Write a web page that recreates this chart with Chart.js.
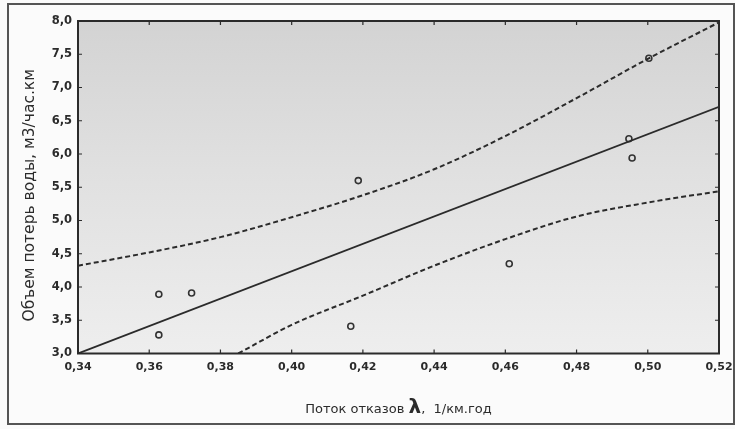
<!DOCTYPE html>
<html>
<head>
<meta charset="utf-8">
<script src="https://cdn.jsdelivr.net/npm/chart.js@4.4.1/dist/chart.umd.min.js"></script>
<style>
    html, body { margin: 0; padding: 0; background: #fbfbfb; }
    #wrap { position: relative; width: 735px; height: 429px; }
</style>
</head>
<body>
<div id="wrap"><canvas id="loss-chart" width="735" height="429"></canvas></div>
<script>
// Failure rate (1/km.year) vs water loss volume (m3/h.km)
const failRate = [0.3627, 0.3627, 0.3719, 0.4166, 0.4187, 0.4611, 0.4947, 0.4956, 0.5003];
const waterLoss = [3.89, 3.28, 3.91, 3.41, 5.60, 4.35, 6.23, 5.94, 7.44];

// Regression line end points
const fitX = [0.34, 0.52];
const fitY = [3.00, 6.71];

// Confidence band
const upperX = [0.34, 0.36, 0.38, 0.40, 0.42, 0.44, 0.46, 0.48, 0.50, 0.52];
const upperY = [4.32, 4.52, 4.75, 5.05, 5.38, 5.77, 6.27, 6.84, 7.43, 7.98];
const lowerX = [0.385, 0.40, 0.42, 0.44, 0.46, 0.48, 0.50, 0.52];
const lowerY = [3.00, 3.43, 3.87, 4.32, 4.72, 5.06, 5.27, 5.44];

// Axis ticks
const xTicks = [0.34, 0.36, 0.38, 0.40, 0.42, 0.44, 0.46, 0.48, 0.50, 0.52];
const yTicks = [3.0, 3.5, 4.0, 4.5, 5.0, 5.5, 6.0, 6.5, 7.0, 7.5, 8.0];

const xTitle = ['Поток отказов ', 'λ', ',  1/км.год'];
const yTitle = 'Объем потерь воды, м3/час.км';

const ink = '#2b2b2b';
const family = '"DejaVu Sans", "Liberation Sans", Arial';
const pairs = (xs, ys) => xs.map((x, i) => ({ x: x, y: ys[i] }));

// Gray plot background, frame with inward ticks, page border and axis titles
const framePlugin = {
    id: 'frame',
    beforeDatasetsDraw(chart) {
        const { ctx, chartArea: a } = chart;
        ctx.save();
        const g = ctx.createLinearGradient(0, a.top, 0, a.bottom);
        g.addColorStop(0, '#d3d3d3');
        g.addColorStop(0.45, '#e0e0e0');
        g.addColorStop(1, '#eeeeee');
        ctx.fillStyle = g;
        ctx.fillRect(a.left, a.top, a.right - a.left, a.bottom - a.top);
        ctx.restore();
    },
    afterDraw(chart) {
        const { ctx, chartArea: a, scales } = chart;
        ctx.save();
        ctx.strokeStyle = ink;
        ctx.lineWidth = 2;
        ctx.strokeRect(a.left, a.top, a.right - a.left, a.bottom - a.top);

        ctx.lineWidth = 1.2;
        ctx.beginPath();
        xTicks.forEach(v => {
            const px = scales.x.getPixelForValue(v);
            ctx.moveTo(px, a.bottom); ctx.lineTo(px, a.bottom - 4);
            ctx.moveTo(px, a.top); ctx.lineTo(px, a.top + 4);
        });
        yTicks.forEach(v => {
            const py = scales.y.getPixelForValue(v);
            ctx.moveTo(a.left, py); ctx.lineTo(a.left + 4, py);
            ctx.moveTo(a.right, py); ctx.lineTo(a.right - 4, py);
        });
        ctx.stroke();

        // outer border of the figure
        ctx.strokeStyle = '#555';
        ctx.lineWidth = 2;
        ctx.strokeRect(8, 4, 726, 420);

        // x axis title, lambda drawn larger and bold
        const fonts = ['13px ' + family, 'bold 20px ' + family, '13px ' + family];
        let total = 0;
        const widths = xTitle.map((t, i) => { ctx.font = fonts[i]; const w = ctx.measureText(t).width; total += w; return w; });
        let tx = (a.left + a.right) / 2 - total / 2;
        const ty = a.bottom + 59;
        ctx.fillStyle = ink;
        ctx.textBaseline = 'alphabetic';
        ctx.textAlign = 'left';
        xTitle.forEach((t, i) => { ctx.font = fonts[i]; ctx.fillText(t, tx, ty); tx += widths[i]; });

        // y axis title
        ctx.translate(30, (a.top + a.bottom) / 2 + 8);
        ctx.rotate(-Math.PI / 2);
        ctx.font = '15.5px ' + family;
        ctx.textAlign = 'center';
        ctx.textBaseline = 'middle';
        ctx.fillText(yTitle, 0, 0);
        ctx.restore();
    }
};

const dashed = {
    showLine: true,
    pointRadius: 0,
    borderColor: ink,
    borderWidth: 2,
    borderDash: [5, 3],
    cubicInterpolationMode: 'monotone',
    fill: false
};

new Chart(document.getElementById('loss-chart'), {
    type: 'scatter',
    data: {
        datasets: [
            Object.assign({ data: pairs(upperX, upperY) }, dashed),
            Object.assign({ data: pairs(lowerX, lowerY) }, dashed),
            {
                data: pairs(fitX, fitY),
                showLine: true,
                pointRadius: 0,
                borderColor: ink,
                borderWidth: 1.8
            },
            {
                data: pairs(failRate, waterLoss),
                pointRadius: 3,
                pointBorderWidth: 1.6,
                pointBorderColor: '#333',
                pointBackgroundColor: 'rgba(0,0,0,0)'
            }
        ]
    },
    options: {
        responsive: false,
        animation: false,
        layout: { padding: { left: 10, top: 21, right: 16, bottom: 0 } },
        plugins: {
            legend: { display: false },
            tooltip: { enabled: false }
        },
        scales: {
            x: {
                type: 'linear',
                min: 0.34,
                max: 0.52,
                afterBuildTicks: s => { s.ticks = xTicks.map(v => ({ value: v })); },
                afterFit: s => { s.height = 75.5; s.paddingLeft = 0; s.paddingRight = 0; },
                grid: { display: false, drawTicks: false },
                border: { display: false },
                ticks: {
                    padding: 7,
                    maxRotation: 0,
                    color: ink,
                    font: { family: family, size: 11, weight: 'bold' },
                    callback: v => v.toFixed(2).replace('.', ',')
                }
            },
            y: {
                type: 'linear',
                min: 3,
                max: 8,
                afterBuildTicks: s => { s.ticks = yTicks.map(v => ({ value: v })); },
                afterFit: s => { s.width = 68; s.paddingTop = 0; s.paddingBottom = 0; },
                grid: { display: false, drawTicks: false },
                border: { display: false },
                ticks: {
                    padding: 6,
                    color: ink,
                    font: { family: family, size: 11.5, weight: 'bold' },
                    callback: v => v.toFixed(1).replace('.', ',')
                }
            }
        }
    },
    plugins: [framePlugin]
});
</script>
</body>
</html>
